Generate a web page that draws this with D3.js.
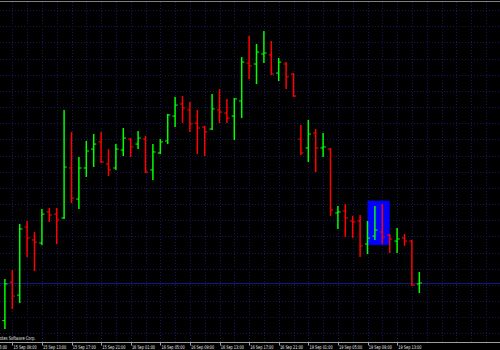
<!DOCTYPE html>
<html lang="en">

<head>
  <meta charset="UTF-8" />
  <title>EURUSD,H1</title>
  <style>
    html, body { margin: 0; padding: 0; background: #000; }
    svg { display: block; }
  </style>
</head>

<body>

  <div id="chart"></div>

  <script src="https://d3js.org/d3.v7.min.js"></script>
  <script>
    var w = 500;
    var h = 350;

    // trading sessions shown on the chart: day, first hour, last hour (H1 bars)
    var sessions = [["15 Sep", 8, 23], ["16 Sep", 0, 23], ["19 Sep", 0, 16]];

    var open = [1.37579, 1.37818, 1.37737, 1.38158, 1.38078, 1.38059, 1.38251, 1.38238,
      1.38214, 1.38523, 1.38331, 1.38523, 1.38640, 1.38684, 1.38548, 1.38523,
      1.38634, 1.38702, 1.38671, 1.38702, 1.38511, 1.38616, 1.38690, 1.38844,
      1.38919, 1.38882, 1.38801, 1.38776, 1.38764, 1.38882, 1.38863, 1.38844,
      1.38937, 1.39172, 1.39166, 1.39228, 1.39222, 1.39110, 1.39166, 1.39104,
      1.38702, 1.38647, 1.38739, 1.38647, 1.38640, 1.38245, 1.38257, 1.38195,
      1.38195, 1.38053, 1.38102, 1.38127, 1.38109, 1.38071, 1.38090, 1.38071,
      1.37806];
    var high = [1.37836, 1.37892, 1.38177, 1.38195, 1.38127, 1.38269, 1.38276, 1.38276,
      1.38882, 1.38746, 1.38591, 1.38690, 1.38733, 1.38746, 1.38640, 1.38671,
      1.38770, 1.38708, 1.38752, 1.38721, 1.38671, 1.38702, 1.38857, 1.38962,
      1.38968, 1.38931, 1.38882, 1.38783, 1.38981, 1.39011, 1.38950, 1.38956,
      1.39209, 1.39339, 1.39290, 1.39370, 1.39308, 1.39203, 1.39178, 1.39110,
      1.38789, 1.38820, 1.38764, 1.38739, 1.38647, 1.38288, 1.38300, 1.38226,
      1.38232, 1.38195, 1.38288, 1.38300, 1.38115, 1.38152, 1.38115, 1.38078,
      1.37880];
    var low = [1.37527, 1.37651, 1.37688, 1.37972, 1.37886, 1.38047, 1.38189, 1.38053,
      1.38207, 1.38306, 1.38269, 1.38467, 1.38529, 1.38554, 1.38473, 1.38511,
      1.38597, 1.38591, 1.38640, 1.38492, 1.38449, 1.38609, 1.38671, 1.38776,
      1.38801, 1.38746, 1.38609, 1.38597, 1.38758, 1.38801, 1.38801, 1.38696,
      1.38832, 1.39073, 1.39042, 1.39172, 1.39098, 1.39061, 1.39011, 1.38962,
      1.38603, 1.38560, 1.38498, 1.38591, 1.38226, 1.38146, 1.38096, 1.38090,
      1.37972, 1.37991, 1.38078, 1.38053, 1.37997, 1.37997, 1.38041, 1.37793,
      1.37750];
    var close = [1.37806, 1.37731, 1.38146, 1.38090, 1.38065, 1.38238, 1.38232, 1.38201,
      1.38529, 1.38337, 1.38523, 1.38628, 1.38671, 1.38560, 1.38511, 1.38640,
      1.38708, 1.38653, 1.38708, 1.38498, 1.38622, 1.38684, 1.38851, 1.38912,
      1.38894, 1.38795, 1.38770, 1.38746, 1.38888, 1.38869, 1.38832, 1.38950,
      1.39178, 1.39154, 1.39240, 1.39234, 1.39104, 1.39178, 1.39086, 1.38968,
      1.38616, 1.38733, 1.38647, 1.38653, 1.38263, 1.38251, 1.38214, 1.38189,
      1.38041, 1.38090, 1.38139, 1.38096, 1.38084, 1.38084, 1.38071, 1.37799,
      1.37812];

    var tickLabels = ["15 Sep 05:00", "15 Sep 09:00", "15 Sep 13:00", "15 Sep 17:00",
      "15 Sep 21:00", "16 Sep 01:00", "16 Sep 05:00", "16 Sep 09:00", "16 Sep 13:00",
      "16 Sep 17:00", "16 Sep 21:00", "19 Sep 01:00", "19 Sep 05:00", "19 Sep 09:00",
      "19 Sep 13:00"];

    // rectangle object drawn on the chart
    var boxTimes = ["19 Sep 09:00", "19 Sep 12:00"];
    var boxPrices = [1.38321, 1.38047];

    var priceRange = [1.3750, 1.3950];

    // bar times from the sessions
    var times = [];
    sessions.forEach(function(s) {
      for (var hr = s[1]; hr <= s[2]; hr++) {
        times.push(s[0] + " " + (hr < 10 ? "0" : "") + hr + ":00");
      }
    });

    var bars = times.map(function(t, i) {
      return { time: t, i: i, o: open[i], h: high[i], l: low[i], c: close[i] };
    });

    var x = d3.scaleLinear()
      .domain([0, bars.length - 1])
      .range([4.9, 419.3]);

    var y = d3.scaleLinear()
      .domain(priceRange)
      .range([333.4, 10]);

    function idx(t) {
      return times.indexOf(t);
    }

    var svg = d3.select("#chart").append("svg")
      .attr("width", w)
      .attr("height", h);

    svg.append("rect")
      .attr("width", w)
      .attr("height", h)
      .attr("fill", "#000");

    // grid
    var grid = svg.append("g")
      .attr("stroke", "#17175e")
      .attr("stroke-width", 1)
      .attr("stroke-dasharray", "1,2");

    grid.selectAll("line.h")
      .data(y.ticks(20))
      .enter()
      .append("line")
      .attr("class", "h")
      .attr("x1", 0)
      .attr("x2", w)
      .attr("y1", function(d) { return Math.round(y(d)) + 0.5; })
      .attr("y2", function(d) { return Math.round(y(d)) + 0.5; });

    var vIdx = d3.range(-1, Math.ceil(x.invert(w)) + 1, 2);
    grid.selectAll("line.v")
      .data(vIdx)
      .enter()
      .append("line")
      .attr("class", "v")
      .attr("x1", function(d) { return Math.round(x(d)) + 0.5; })
      .attr("x2", function(d) { return Math.round(x(d)) + 0.5; })
      .attr("y1", 2)
      .attr("y2", 342);

    // top border
    svg.append("line")
      .attr("x1", 0).attr("x2", w)
      .attr("y1", 1.5).attr("y2", 1.5)
      .attr("stroke", "#808080");

    // rectangle object
    svg.append("rect")
      .attr("x", x(idx(boxTimes[0])))
      .attr("y", y(boxPrices[0]))
      .attr("width", x(idx(boxTimes[1])) - x(idx(boxTimes[0])))
      .attr("height", y(boxPrices[1]) - y(boxPrices[0]))
      .attr("fill", "#0000ff");

    // bid line
    var last = close[close.length - 1];
    svg.append("line")
      .attr("x1", 0).attr("x2", w)
      .attr("y1", Math.round(y(last)) + 0.5)
      .attr("y2", Math.round(y(last)) + 0.5)
      .attr("stroke", "#15157a");

    // OHLC bars
    var bar = svg.selectAll("g.bar")
      .data(bars)
      .enter()
      .append("g")
      .attr("class", "bar")
      .attr("stroke", function(d) {
        return d.c >= d.o ? "#00ff00" : "#ff0000";
      });

    bar.append("line")
      .attr("x1", function(d) { return x(d.i); })
      .attr("x2", function(d) { return x(d.i); })
      .attr("y1", function(d) { return y(d.h); })
      .attr("y2", function(d) { return y(d.l); })
      .attr("stroke-width", 1.5);

    bar.append("line")
      .attr("x1", function(d) { return x(d.i) - 2.6; })
      .attr("x2", function(d) { return x(d.i); })
      .attr("y1", function(d) { return y(d.o); })
      .attr("y2", function(d) { return y(d.o); })
      .attr("stroke-width", 1.1);

    bar.append("line")
      .attr("x1", function(d) { return x(d.i); })
      .attr("x2", function(d) { return x(d.i) + 2.6; })
      .attr("y1", function(d) { return y(d.c); })
      .attr("y2", function(d) { return y(d.c); })
      .attr("stroke-width", 1.1);

    // time axis
    svg.append("line")
      .attr("x1", 0).attr("x2", w)
      .attr("y1", 342.5).attr("y2", 342.5)
      .attr("stroke", "#a0a0a0");

    var ticks = tickLabels.map(function(t, k) {
      var i = idx(t);
      if (i < 0) i = idx(tickLabels[k + 1]) - 4;
      return { label: t, i: i };
    });

    svg.selectAll("line.tick")
      .data(ticks)
      .enter()
      .append("line")
      .attr("class", "tick")
      .attr("x1", function(d) { return Math.round(x(d.i)) + 0.5; })
      .attr("x2", function(d) { return Math.round(x(d.i)) + 0.5; })
      .attr("y1", 342)
      .attr("y2", 345.5)
      .attr("stroke", "#a0a0a0");

    // narrow small font, like the terminal's
    svg.selectAll("text.tick")
      .data(ticks)
      .enter()
      .append("text")
      .attr("class", "tick")
      .attr("transform", function(d) {
        return "translate(" + (x(d.i) + 1.2) + ",348.6) scale(0.67,1)";
      })
      .style("font-family", "DejaVu Sans")
      .style("font-size", "5.2px")
      .attr("fill", "#e6e6e6")
      .text(function(d) { return d.label; });

    svg.append("text")
      .attr("transform", "translate(35.5,340.3) scale(0.7,1)")
      .attr("text-anchor", "end")
      .style("font-family", "DejaVu Sans")
      .style("font-size", "5.2px")
      .attr("fill", "#e6e6e6")
      .text("© 2001-2011, MetaQuotes Software Corp.");
  </script>

</body>

</html>
